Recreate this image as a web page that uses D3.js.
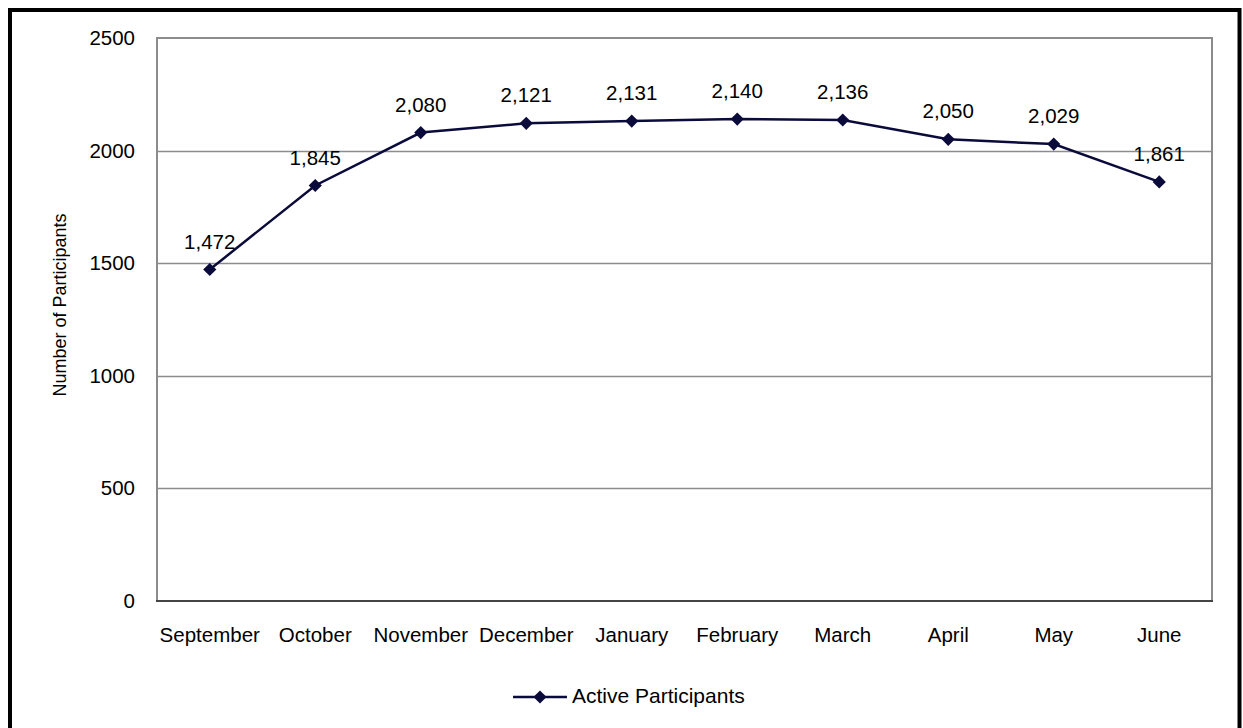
<!DOCTYPE html>
<html><head><meta charset="utf-8">
<script src="https://cdn.jsdelivr.net/npm/d3@7"></script>
<style>body{margin:0;background:#fff;}svg{display:block;font-family:"Liberation Sans",Arial,sans-serif;}</style>
</head><body>
<svg id="c" width="1243" height="728"></svg>
<script>
const months = ["September","October","November","December","January","February","March","April","May","June"];
const participants = [1472,1845,2080,2121,2131,2140,2136,2050,2029,1861];
const yTicks = [0,500,1000,1500,2000,2500];
const seriesName = "Active Participants";
const yTitle = "Number of Participants";

const svg = d3.select("#c");
const W = 1243, H = 728;
const m = {l:157, r:1212, t:38, b:601};
const navy = "#0b0b3b";
const FS = 20.5;

svg.append("rect").attr("x",10).attr("y",10).attr("width",W-10-3.5).attr("height",H).attr("fill","none").attr("stroke","#000").attr("stroke-width",4);

const x = d3.scaleBand().domain(months).range([m.l,m.r]);
const y = d3.scaleLinear().domain([0,2500]).range([m.b,m.t]);

// gridlines
svg.append("g").selectAll("line").data(yTicks.filter(d=>d>0 && d<2500)).join("line")
  .attr("x1",m.l).attr("x2",m.r).attr("y1",d=>Math.round(y(d))+0.5).attr("y2",d=>Math.round(y(d))+0.5)
  .attr("stroke","#8c8c8c").attr("stroke-width",1.5);
// plot border
svg.append("rect").attr("x",m.l).attr("y",m.t).attr("width",m.r-m.l).attr("height",m.b-m.t)
  .attr("fill","none").attr("stroke","#8c8c8c").attr("stroke-width",2);
svg.append("line").attr("x1",m.l-1).attr("x2",m.r+1).attr("y1",m.b).attr("y2",m.b).attr("stroke","#444").attr("stroke-width",2);

// y axis labels
const yAxis = d3.axisLeft(y).tickValues(yTicks).tickSize(0).tickPadding(22).tickFormat(d3.format("d"));
const ga = svg.append("g").attr("transform",`translate(${m.l},0)`).call(yAxis);
ga.select(".domain").remove();
ga.selectAll("text").attr("font-size",FS).attr("fill","#000").attr("font-family","Liberation Sans, Arial, sans-serif");

// x axis labels
const xAxis = d3.axisBottom(x).tickSize(0).tickPadding(26);
const gx = svg.append("g").attr("transform",`translate(0,${m.b})`).call(xAxis);
gx.select(".domain").remove();
gx.selectAll("text").attr("font-size",FS).attr("fill","#000").attr("font-family","Liberation Sans, Arial, sans-serif");

// y title
svg.append("text").attr("transform",`translate(61,${305}) rotate(-90)`).attr("text-anchor","middle")
  .attr("dominant-baseline","middle").attr("font-size",18).text(yTitle);

const cx = (d,i)=>x(months[i])+x.bandwidth()/2;
const line = d3.line().x((d,i)=>cx(d,i)).y(d=>y(d));
svg.append("path").datum(participants).attr("d",line).attr("fill","none").attr("stroke",navy).attr("stroke-width",2.5);

const diamond = d3.symbol().type(d3.symbolDiamond2).size(110);
svg.append("g").selectAll("path").data(participants).join("path")
  .attr("d",diamond).attr("transform",(d,i)=>`translate(${cx(d,i)},${y(d)})`).attr("fill",navy);

svg.append("g").selectAll("text").data(participants).join("text")
  .attr("x",(d,i)=>cx(d,i)).attr("y",d=>y(d)-21).attr("text-anchor","middle").attr("font-size",FS)
  .text(d=>d3.format(",")(d));

// legend
const ly = 697;
svg.append("line").attr("x1",513).attr("x2",567).attr("y1",ly).attr("y2",ly).attr("stroke",navy).attr("stroke-width",2.5);
svg.append("path").attr("d",diamond).attr("transform",`translate(540,${ly})`).attr("fill",navy);
svg.append("text").attr("x",572).attr("y",ly).attr("dominant-baseline","middle").attr("font-size",21).text(seriesName);
</script>
</body></html>
